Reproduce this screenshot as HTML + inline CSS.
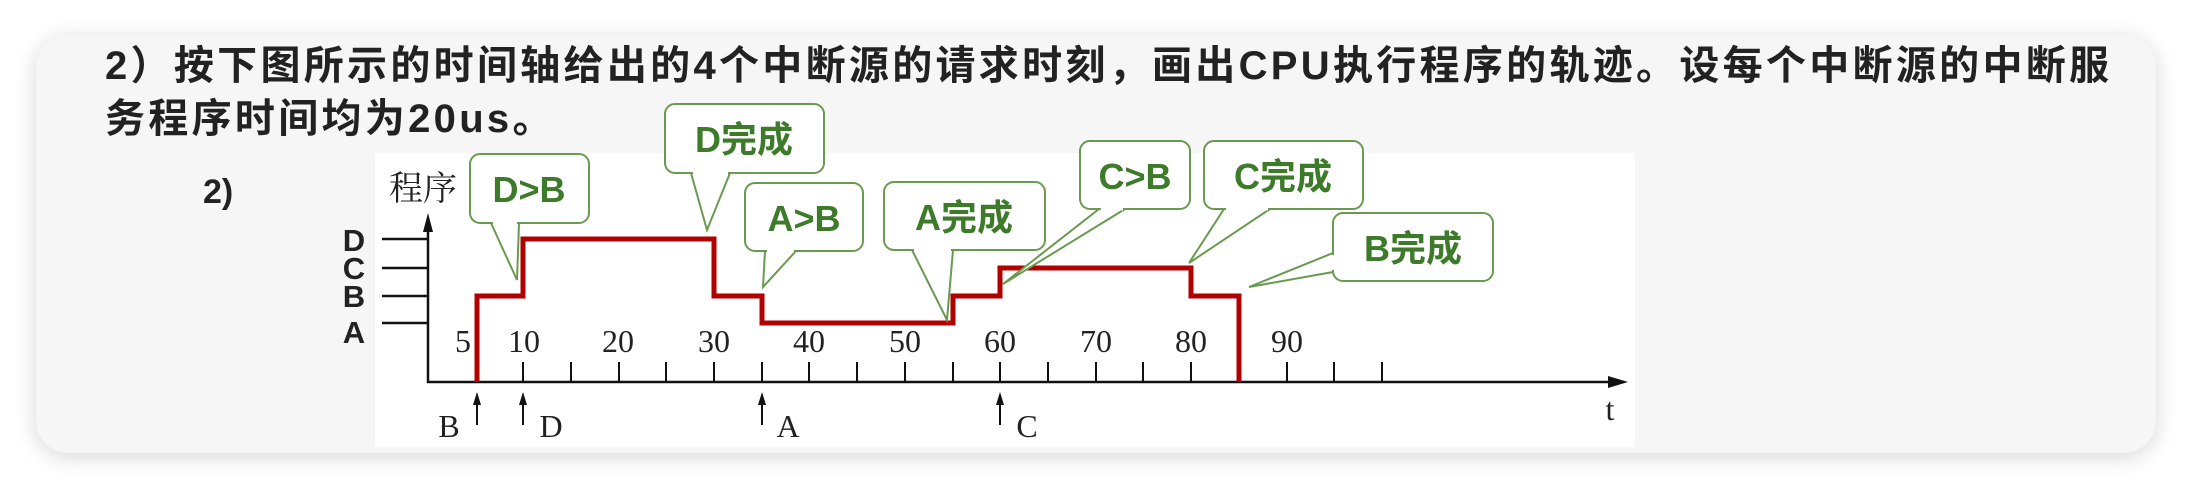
<!DOCTYPE html>
<html><head><meta charset="utf-8"><style>
html,body{margin:0;padding:0;background:#fff;width:2192px;height:488px;overflow:hidden}
.card{position:absolute;left:36px;top:35px;width:2120px;height:418px;background:#f6f6f6;border-radius:32px;box-shadow:0 4px 22px rgba(0,0,0,.16)}
.t{position:absolute;left:105px;font-family:"Liberation Sans","Noto Sans CJK SC",sans-serif;font-weight:bold;font-size:40px;color:#222;white-space:nowrap;letter-spacing:3.3px;line-height:53px}
svg{position:absolute;left:0;top:0}
</style></head><body>
<div class="card"></div>
<div class="t" style="top:40px">2）按下图所示的时间轴给出的4个中断源的请求时刻，画出CPU执行程序的轨迹。设每个中断源的中断服</div>
<div class="t" style="top:93px">务程序时间均为20us。</div>
<svg width="2192" height="488" viewBox="0 0 2192 488">
<rect x="375" y="153" width="1260" height="294" fill="#fff"/>
<text x="203" y="203" font-family="Liberation Sans,sans-serif" font-weight="bold" font-size="34" fill="#222">2)</text>
<text x="389" y="200" font-family="Liberation Serif,Noto Serif CJK SC,serif" font-size="34" fill="#222">程序</text>
<g stroke="#111" stroke-width="2.5" fill="none">
<line x1="428" y1="222" x2="428" y2="383"/>
<line x1="427" y1="382" x2="1615" y2="382"/>
<line x1="382" y1="239" x2="428" y2="239"/>
<line x1="382" y1="268" x2="428" y2="268"/>
<line x1="382" y1="296" x2="428" y2="296"/>
<line x1="382" y1="323" x2="428" y2="323"/>
</g>
<polygon points="428,213 423,232 433,232" fill="#111"/>
<polygon points="1628,382 1608,376 1608,388" fill="#111"/>
<g stroke="#111" stroke-width="2">
<line x1="523" y1="362" x2="523" y2="382"/><line x1="571" y1="362" x2="571" y2="382"/>
<line x1="619" y1="362" x2="619" y2="382"/><line x1="666" y1="362" x2="666" y2="382"/>
<line x1="714" y1="362" x2="714" y2="382"/><line x1="762" y1="362" x2="762" y2="382"/>
<line x1="809" y1="362" x2="809" y2="382"/><line x1="857" y1="362" x2="857" y2="382"/>
<line x1="905" y1="362" x2="905" y2="382"/><line x1="953" y1="362" x2="953" y2="382"/>
<line x1="1000" y1="362" x2="1000" y2="382"/><line x1="1048" y1="362" x2="1048" y2="382"/>
<line x1="1096" y1="362" x2="1096" y2="382"/><line x1="1143" y1="362" x2="1143" y2="382"/>
<line x1="1191" y1="362" x2="1191" y2="382"/><line x1="1239" y1="362" x2="1239" y2="382"/>
<line x1="1287" y1="362" x2="1287" y2="382"/><line x1="1334" y1="362" x2="1334" y2="382"/>
<line x1="1382" y1="362" x2="1382" y2="382"/>
</g>
<g font-family="Liberation Sans,sans-serif" font-weight="bold" font-size="31" fill="#222" text-anchor="middle">
<text x="354" y="251">D</text><text x="354" y="279">C</text><text x="354" y="307">B</text><text x="354" y="343">A</text>
</g>
<g font-family="Liberation Serif,serif" font-size="32" fill="#222" text-anchor="middle">
<text x="463" y="352">5</text><text x="524" y="352">10</text><text x="618" y="352">20</text>
<text x="714" y="352">30</text><text x="809" y="352">40</text><text x="905" y="352">50</text>
<text x="1000" y="352">60</text><text x="1096" y="352">70</text><text x="1191" y="352">80</text>
<text x="1287" y="352">90</text>
<text x="449" y="437">B</text><text x="551" y="437">D</text><text x="788" y="437">A</text><text x="1027" y="437">C</text>
<text x="1610" y="420">t</text>
</g>
<g stroke="#111" stroke-width="2">
<line x1="477" y1="400" x2="477" y2="425"/><line x1="523" y1="400" x2="523" y2="425"/>
<line x1="762" y1="400" x2="762" y2="425"/><line x1="1000" y1="400" x2="1000" y2="425"/>
</g>
<g fill="#111">
<polygon points="477,392 473,405 481,405"/><polygon points="523,392 519,405 527,405"/>
<polygon points="762,392 758,405 766,405"/><polygon points="1000,392 996,405 1004,405"/>
</g>
<polyline points="477,382 477,296 523,296 523,239 714,239 714,296 762,296 762,323 953,323 953,296 1000,296 1000,268 1191,268 1191,296 1239,296 1239,382" fill="none" stroke="#b00000" stroke-width="5"/>
<g stroke="#6a9a50" stroke-width="2" fill="#fff" font-family="Liberation Sans,Noto Sans CJK SC,sans-serif" font-weight="bold" font-size="36">
<rect x="470" y="154" width="119" height="69" rx="10"/>
<polygon points="491,223 517,280 519,223"/><line x1="493" y1="223" x2="517" y2="223" stroke="#fff" stroke-width="3"/>
<text x="529" y="202" text-anchor="middle" fill="#3d7a2a" stroke="none">D&gt;B</text>
<rect x="665" y="104" width="159" height="69" rx="10"/>
<polygon points="691,173 707,230 730,173"/><line x1="693" y1="173" x2="728" y2="173" stroke="#fff" stroke-width="3"/>
<text x="744" y="152" text-anchor="middle" fill="#3d7a2a" stroke="none">D完成</text>
<rect x="745" y="183" width="118" height="68" rx="10"/>
<polygon points="765,251 763,287 796,251"/><line x1="767" y1="251" x2="794" y2="251" stroke="#fff" stroke-width="3"/>
<text x="804" y="231" text-anchor="middle" fill="#3d7a2a" stroke="none">A&gt;B</text>
<rect x="884" y="182" width="161" height="68" rx="10"/>
<polygon points="912,250 947,320 953,250"/><line x1="914" y1="250" x2="951" y2="250" stroke="#fff" stroke-width="3"/>
<text x="964" y="230" text-anchor="middle" fill="#3d7a2a" stroke="none">A完成</text>
<rect x="1080" y="141" width="110" height="68" rx="10"/>
<polygon points="1099,209 1003,284 1125,209"/><line x1="1101" y1="209" x2="1123" y2="209" stroke="#fff" stroke-width="3"/>
<text x="1135" y="189" text-anchor="middle" fill="#3d7a2a" stroke="none">C&gt;B</text>
<rect x="1204" y="141" width="159" height="68" rx="10"/>
<polygon points="1224,209 1189,263 1270,209"/><line x1="1226" y1="209" x2="1268" y2="209" stroke="#fff" stroke-width="3"/>
<text x="1283" y="189" text-anchor="middle" fill="#3d7a2a" stroke="none">C完成</text>
<rect x="1333" y="213" width="160" height="68" rx="10"/>
<polygon points="1333,253 1249,287 1333,272"/><line x1="1333" y1="255" x2="1333" y2="270" stroke="#fff" stroke-width="3"/>
<text x="1413" y="261" text-anchor="middle" fill="#3d7a2a" stroke="none">B完成</text>
</g>
</svg>
</body></html>
